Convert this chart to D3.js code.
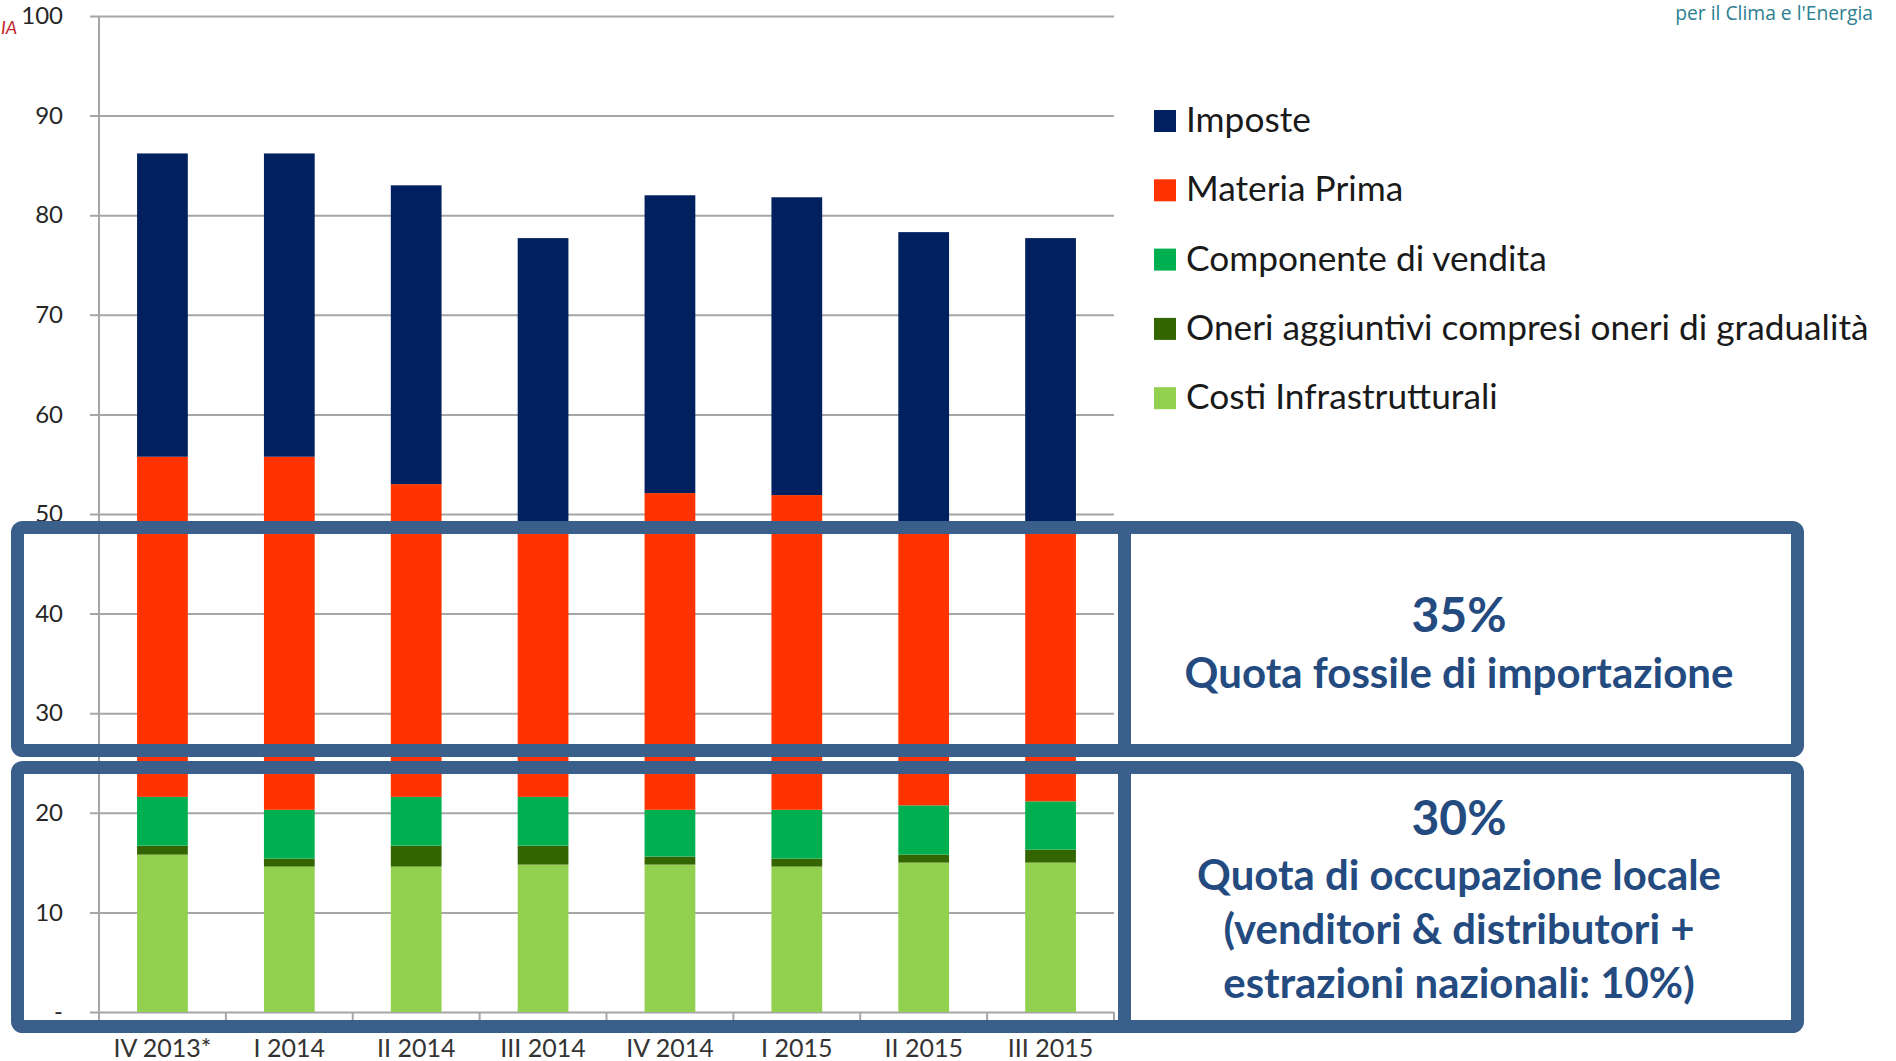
<!DOCTYPE html>
<html>
<head>
<meta charset="utf-8">
<script src="https://cdn.jsdelivr.net/npm/d3@7"></script>
<style>
  body { margin: 0; background: #fff; }
  svg { display: block; }
</style>
</head>
<body>
<div id="show-graph"></div>
<script>
// data (stack order bottom -> top)
var categories = ['IV 2013*', 'I 2014', 'II 2014', 'III 2014', 'IV 2014', 'I 2015', 'II 2015', 'III 2015']
var costiInfrastrutturali = [15.8, 14.6, 14.6, 14.8, 14.8, 14.6, 15.0, 15.0]
var oneriAggiuntivi = [0.9, 0.8, 2.1, 1.9, 0.8, 0.8, 0.8, 1.3]
var componenteVendita = [4.9, 4.9, 4.9, 4.9, 4.7, 4.9, 4.95, 4.85]
var materiaPrima = [34.15, 35.45, 31.4, 26.9, 31.8, 31.6, 27.75, 27.35]
var imposte = [30.45, 30.45, 30.0, 29.2, 29.9, 29.9, 29.8, 29.2]
var seriesNames = ['Costi Infrastrutturali', 'Oneri aggiuntivi compresi oneri di gradualità', 'Componente di vendita', 'Materia Prima', 'Imposte']
var seriesColors = ['#92d050', '#336600', '#00b050', '#ff3300', '#002060']
var yTicks = [0, 10, 20, 30, 40, 50, 60, 70, 80, 90, 100]
var box1Lines = ['35%', 'Quota fossile di importazione']
var box2Lines = ['30%', 'Quota di occupazione locale', '(venditori & distributori +', 'estrazioni nazionali: 10%)']

var width = 1896
var height = 1061
var plot = { left: 99, right: 1114, top: 16, bottom: 1012 }
var boxColor = '#3a5f8b'
var boxText = '#244b80'

var svg = d3.select('#show-graph')
  .append('svg')
  .attr('width', width)
  .attr('height', height)
  .style('font-family', 'Lato, "Open Sans", sans-serif')

// build a table for d3.stack
var table = categories.map(function (c, i) {
  var row = { cat: c }
  row[seriesNames[0]] = costiInfrastrutturali[i]
  row[seriesNames[1]] = oneriAggiuntivi[i]
  row[seriesNames[2]] = componenteVendita[i]
  row[seriesNames[3]] = materiaPrima[i]
  row[seriesNames[4]] = imposte[i]
  return row
})
var stacked = d3.stack().keys(seriesNames)(table)

var color = d3.scaleOrdinal().domain(seriesNames).range(seriesColors)

var x = d3.scaleBand()
  .domain(categories)
  .range([plot.left, plot.right])
  .paddingInner(0.6)
  .paddingOuter(0.3)

var y = d3.scaleLinear()
  .domain([0, 100])
  .range([plot.bottom, plot.top])

// Y axis + gridlines
var yAxis = svg.append('g')
  .attr('transform', 'translate(' + plot.left + ',0)')
  .call(d3.axisLeft(y)
    .tickValues(yTicks)
    .tickSizeInner(-(plot.right - plot.left))
    .tickSizeOuter(0)
    .tickPadding(36)
    .tickFormat(function (d) { return d === 0 ? '-' : d }))
yAxis.select('.domain').remove()
yAxis.selectAll('line')
  .attr('x1', -9)
  .attr('stroke', '#a6a6a6')
  .attr('stroke-width', 2)
yAxis.selectAll('text')
  .attr('fill', '#262626')
  .attr('font-size', 24)
  .attr('font-family', 'Lato, sans-serif')

// vertical axis line
svg.append('line')
  .attr('x1', plot.left).attr('x2', plot.left)
  .attr('y1', y(100)).attr('y2', plot.bottom + 8)
  .attr('stroke', '#a6a6a6')
  .attr('stroke-width', 2)

// X axis tick marks at band boundaries
var gap = (x.step() - x.bandwidth()) / 2
var boundaries = categories.map(function (c) { return x(c) - gap }).concat([plot.right])
svg.append('g')
  .selectAll('line')
  .data(boundaries)
  .enter()
  .append('line')
  .attr('x1', function (d) { return d })
  .attr('x2', function (d) { return d })
  .attr('y1', plot.bottom)
  .attr('y2', plot.bottom + 8)
  .attr('stroke', '#a6a6a6')
  .attr('stroke-width', 2)

// bars
svg.append('g')
  .selectAll('g')
  .data(stacked)
  .enter()
  .append('g')
  .attr('fill', function (d) { return color(d.key) })
  .selectAll('rect')
  .data(function (d) { return d })
  .enter()
  .append('rect')
  .attr('x', function (d) { return x(d.data.cat) })
  .attr('y', function (d) { return y(d[1]) })
  .attr('width', x.bandwidth())
  .attr('height', function (d) { return y(d[0]) - y(d[1]) })

// X labels
var xAxis = svg.append('g')
  .attr('transform', 'translate(0,' + plot.bottom + ')')
  .call(d3.axisBottom(x).tickSize(0))
xAxis.select('.domain').remove()
xAxis.selectAll('text')
  .attr('y', 45)
  .attr('dy', null)
  .attr('fill', '#333')
  .attr('font-size', 25)
  .attr('font-family', 'Lato, sans-serif')

// legend (top -> bottom is reverse stack order)
var legendItems = seriesNames.slice().reverse()
var legend = svg.append('g')
  .selectAll('g')
  .data(legendItems)
  .enter()
  .append('g')
  .attr('transform', function (d, i) { return 'translate(1154,' + (121 + i * 69.3) + ')' })
legend.append('rect')
  .attr('x', 0).attr('y', -11)
  .attr('width', 22).attr('height', 22)
  .attr('fill', function (d) { return color(d) })
var legendText = legend.append('text')
  .attr('x', 32)
  .attr('y', 11)
  .attr('font-size', 30)
  .attr('fill', '#1a1a1a')
  .text(function (d) { return d })

// shrink / grow a font so the longest label matches the picture
function fitWidth (sel, target) {
  var w = d3.max(sel.nodes(), function (n) { return n.getComputedTextLength() })
  var fs = parseFloat(sel.attr('font-size'))
  sel.attr('font-size', fs * target / w)
  return fs * target / w
}
fitWidth(legendText, 683)

// annotation boxes
var boxes = [
  { y0: 521, y1: 757, lines: box1Lines, base: [632, 688] },
  { y0: 761, y1: 1033, lines: box2Lines, base: [835, 890, 944, 998] }
]
boxes.forEach(function (b) {
  var sw = 13
  svg.append('rect')
    .attr('x', 11 + sw / 2)
    .attr('y', b.y0 + sw / 2)
    .attr('width', 1804 - 11 - sw)
    .attr('height', b.y1 - b.y0 - sw)
    .attr('rx', 5)
    .attr('fill', 'none')
    .attr('stroke', boxColor)
    .attr('stroke-width', sw)
  svg.append('line')
    .attr('x1', 1124.5).attr('x2', 1124.5)
    .attr('y1', b.y0).attr('y2', b.y1)
    .attr('stroke', boxColor)
    .attr('stroke-width', sw)

  svg.append('text')
    .attr('x', 1459)
    .attr('y', b.base[0])
    .attr('text-anchor', 'middle')
    .attr('font-size', 48)
    .attr('font-weight', 'bold')
    .attr('fill', boxText)
    .text(b.lines[0])
  var rest = svg.append('g')
    .selectAll('text')
    .data(b.lines.slice(1))
    .enter()
    .append('text')
    .attr('x', 1459)
    .attr('y', function (d, i) { return b.base[i + 1] })
    .attr('text-anchor', 'middle')
    .attr('font-size', 34)
    .attr('font-weight', 'bold')
    .attr('fill', boxText)
    .text(function (d) { return d })
  fitWidth(rest, b.lines.length > 2 ? 524 : 549)
})

// bits of the slide around the chart
svg.append('text')
  .attr('x', 1)
  .attr('y', 34)
  .attr('font-size', 18)
  .attr('font-style', 'italic')
  .attr('fill', '#c0262d')
  .text('IA')
var brand = svg.append('text')
  .attr('x', 1873)
  .attr('y', 20)
  .attr('text-anchor', 'end')
  .attr('font-size', 18)
  .attr('fill', '#2e7f91')
  .attr('font-family', '"Open Sans", sans-serif')
  .text("per il Clima e l'Energia")
fitWidth(brand, 198)
</script>
</body>
</html>
